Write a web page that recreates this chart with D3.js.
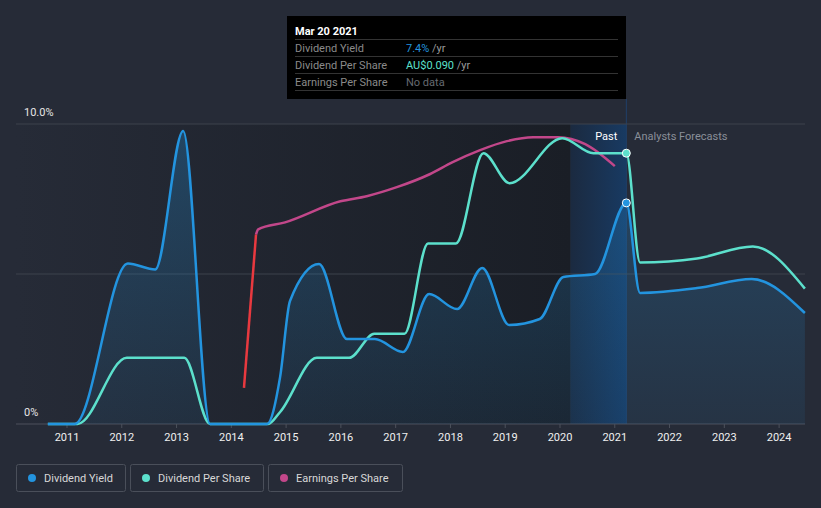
<!DOCTYPE html>
<html><head><meta charset="utf-8">
<script src="https://cdn.jsdelivr.net/npm/d3@7"></script>
<style>
html,body{margin:0;padding:0;background:#262b37;}
svg{display:block;font-family:Roboto,"Noto Sans",sans-serif;}
</style></head><body>
<svg id="c" width="821" height="508"></svg>
<script>
// ---- data ----
const yearTicks = [2011,2012,2013,2014,2015,2016,2017,2018,2019,2020,2021,2022,2023,2024];
const yTickLabels = ["0%","10.0%"];
// Dividend yield (%)
const yieldYears = [2010.66,2011.15,2012.12,2012.62,2013.13,2013.62,2014.66,2014.9,2015.08,2015.61,2016.12,2016.63,2017.14,2017.62,2018.13,2018.59,2019.08,2019.64,2020.07,2020.65,2021.22,2021.47,2022.51,2023.51,2024.48];
const yieldValues = [0,0,5.35,5.15,9.77,0,0,1.57,4.1,5.33,2.83,2.83,2.4,4.33,3.83,5.2,3.3,3.5,4.9,5.0,7.37,4.37,4.53,4.83,3.7];
// Dividend per share (AU$)
const dpsYears = [2010.66,2011.2,2012.1,2013.15,2013.62,2014.68,2014.9,2015.57,2016.16,2016.62,2017.17,2017.6,2018.11,2018.61,2019.09,2020.05,2020.62,2021.22,2021.47,2022.51,2023.53,2024.48];
const dpsValues = [0,0,0.022,0.022,0,0,0.004,0.022,0.022,0.030,0.030,0.060,0.060,0.090,0.080,0.095,0.090,0.090,0.0537,0.055,0.059,0.045];
// Earnings per share (AU$)
const epsYears = [2014.24,2014.46,2014.5,2014.99,2016.0,2016.48,2017.03,2017.63,2018.05,2018.55,2019.04,2019.52,2019.97,2020.47,2021.01];
const epsValues = [0.012,0.063,0.0647,0.067,0.074,0.0757,0.0787,0.083,0.087,0.091,0.094,0.0953,0.0953,0.093,0.0857];
const epsNegativeCount = 2; // first segment drawn in red
const legendItems = [["Dividend Yield","#2394df"],["Dividend Per Share","#5ce0cc"],["Earnings Per Share","#c2478a"]];
const nowYear = 2021.22, bandStart = 2020.2;

// ---- layout ----
const svg = d3.select("#c");
const L = 16, R = 805, T = 124, B = 424;
const x = d3.scaleLinear().domain([2011, 2024]).range([66.5, 778.6]);
const yY = d3.scaleLinear().domain([0, 10]).range([B, T]);
const yD = d3.scaleLinear().domain([0, 0.0997]).range([B, T]);
const yE = d3.scaleLinear().domain([0, 0.0997]).range([B, T]);

const defs = svg.append("defs");
const g1 = defs.append("linearGradient").attr("id","pastG").attr("x1",0).attr("x2",1).attr("y1",0).attr("y2",0);
g1.append("stop").attr("offset",0).attr("stop-color","#262b37");
g1.append("stop").attr("offset",1).attr("stop-color","#1a1e26");
const g2 = defs.append("linearGradient").attr("id","bandG").attr("x1",0).attr("x2",1).attr("y1",0).attr("y2",0);
g2.append("stop").attr("offset",0).attr("stop-color","#1b2a40");
g2.append("stop").attr("offset",1).attr("stop-color","#183a62");
const g3 = defs.append("linearGradient").attr("id","areaG").attr("x1",0).attr("x2",0).attr("y1",0).attr("y2",1);
g3.append("stop").attr("offset",0).attr("stop-color","#2394df").attr("stop-opacity",0.28);
g3.append("stop").attr("offset",1).attr("stop-color","#2394df").attr("stop-opacity",0.08);

// background regions
svg.append("rect").attr("x",L).attr("y",T).attr("width",x(bandStart)-L).attr("height",B-T).attr("fill","url(#pastG)");
svg.append("rect").attr("x",x(bandStart)).attr("y",T).attr("width",x(nowYear)-x(bandStart)).attr("height",B-T).attr("fill","url(#bandG)");
svg.append("line").attr("x1",x(nowYear)).attr("x2",x(nowYear)).attr("y1",99).attr("y2",B).attr("stroke","#1f3f6a").attr("stroke-width",1);

// gridlines
[0,5,10].forEach(v=>{
  svg.append("line").attr("x1",L).attr("x2",R).attr("y1",yY(v)).attr("y2",yY(v))
    .attr("stroke", v===0 ? "#4c515c" : "#3d424d").attr("stroke-width",1);
});
svg.append("text").attr("x",24).attr("y",yY(10)-8).attr("fill","#e6e6e6").attr("font-size",11).text(yTickLabels[1]);
svg.append("text").attr("x",24).attr("y",yY(0)-8).attr("fill","#e6e6e6").attr("font-size",11).text(yTickLabels[0]);

// x axis
const xAxis = d3.axisBottom(x).tickValues(yearTicks).tickFormat(d3.format("d")).tickSize(4).tickPadding(5);
const ax = svg.append("g").attr("transform",`translate(0,${B})`).call(xAxis);
ax.select(".domain").remove();
ax.selectAll(".tick line").attr("stroke","#4c515c");
ax.selectAll(".tick text").attr("fill","#f0f0f0").attr("font-size",11)
  .attr("font-family","Roboto,sans-serif");

// series
const yieldData = yieldYears.map((d,i)=>[d,yieldValues[i]]);
const dpsData = dpsYears.map((d,i)=>[d,dpsValues[i]]);
const epsData = epsYears.map((d,i)=>[d,epsValues[i]]);
const curve = d3.curveMonotoneX;

svg.append("path").datum(yieldData)
  .attr("d", d3.area().x(d=>x(d[0])).y0(B).y1(d=>yY(d[1])).curve(curve))
  .attr("fill","url(#areaG)");

const line = (ys)=>d3.line().x(d=>x(d[0])).y(d=>ys(d[1])).curve(curve);
svg.append("path").datum(epsData.slice(0,epsNegativeCount))
  .attr("d", line(yE)).attr("fill","none").attr("stroke","#e8393f").attr("stroke-width",2.5);
svg.append("path").datum(epsData.slice(epsNegativeCount-1))
  .attr("d", line(yE)).attr("fill","none").attr("stroke","#c2478a").attr("stroke-width",2.5);
svg.append("path").datum(dpsData)
  .attr("d", line(yD)).attr("fill","none").attr("stroke","#5ce0cc").attr("stroke-width",2.5);
svg.append("path").datum(yieldData)
  .attr("d", line(yY)).attr("fill","none").attr("stroke","#2394df").attr("stroke-width",2.5);

// markers at now
const nowYield = yieldValues[yieldYears.indexOf(nowYear)];
const nowDps = dpsValues[dpsYears.indexOf(nowYear)];
svg.append("circle").attr("cx",x(nowYear)).attr("cy",yD(nowDps)).attr("r",4).attr("fill","#5ce0cc").attr("stroke","#ffffff").attr("stroke-width",1);
svg.append("circle").attr("cx",x(nowYear)).attr("cy",yY(nowYield)).attr("r",4).attr("fill","#2394df").attr("stroke","#ffffff").attr("stroke-width",1);

// Past / Forecast labels
svg.append("text").attr("x",x(nowYear)-9).attr("y",140).attr("text-anchor","end").attr("fill","#ffffff").attr("font-size",11).text("Past");
svg.append("text").attr("x",x(nowYear)+8).attr("y",140).attr("fill","#8a8f99").attr("font-size",11).text("Analysts Forecasts");

// tooltip
const tt = svg.append("g").attr("transform","translate(287,16)");
tt.append("rect").attr("width",339).attr("height",83).attr("fill","#000000");
tt.append("text").attr("x",8).attr("y",19).attr("fill","#ffffff").attr("font-size",11).attr("font-weight","bold").text("Mar 20 2021");
const rows = [["Dividend Yield", nowYield.toFixed(1)+"%", "#2394df"],
              ["Dividend Per Share", "AU$"+nowDps.toFixed(3), "#5ce0cc"],
              ["Earnings Per Share", "No data", "#666a70"]];
rows.forEach((r,i)=>{
  const yy = 23 + i*17;
  tt.append("line").attr("x1",8).attr("x2",331).attr("y1",yy+0.5).attr("y2",yy+0.5).attr("stroke","#333");
  tt.append("text").attr("x",8).attr("y",yy+13).attr("fill","#8a8a8a").attr("font-size",11).text(r[0]);
  const t = tt.append("text").attr("x",119).attr("y",yy+13).attr("font-size",11);
  t.append("tspan").attr("fill",r[2]).text(r[1]);
  if (i<2) t.append("tspan").attr("fill","#9a9a9a").text(" /yr");
});
tt.append("line").attr("x1",8).attr("x2",331).attr("y1",74.5).attr("y2",74.5).attr("stroke","#333");

// legend
const lg = svg.append("g").attr("transform","translate(16,464)");
let lx = 0;
const widths = [110,134,135];
legendItems.forEach((d,i)=>{
  const g = lg.append("g").attr("transform",`translate(${lx},0)`);
  g.append("rect").attr("x",0.5).attr("y",0.5).attr("width",widths[i]-1).attr("height",27).attr("rx",2)
    .attr("fill","none").attr("stroke","#4a4f5a");
  g.append("circle").attr("cx",16).attr("cy",14).attr("r",4).attr("fill",d[1]);
  g.append("text").attr("x",28).attr("y",18).attr("fill","#d8d8d8").attr("font-size",11)
    .attr("font-family","Roboto,sans-serif").text(d[0]);
  lx += widths[i] + 4;
});
</script>
</body></html>
